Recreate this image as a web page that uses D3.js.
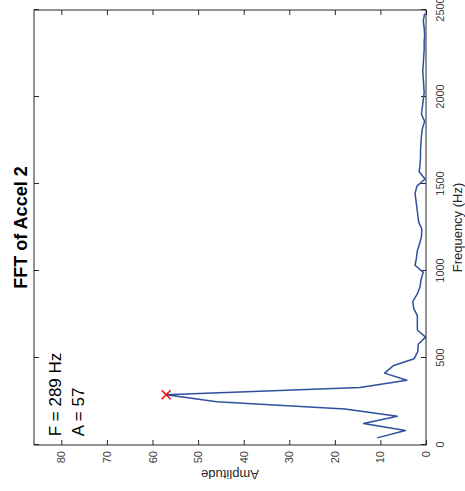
<!DOCTYPE html>
<html><head><meta charset="utf-8">
<script src="https://cdn.jsdelivr.net/npm/d3@7"></script>
<style>body{margin:0;background:#fff}svg{display:block}</style>
</head><body><svg id="c" width="465" height="491"></svg>
<script>
const freqs = [41,83,124,165,207,248,289,331,372,413,455,496,537,579,620,661,702,744,785,826,868,909,950,992,1033,1074,1116,1157,1198,1240,1281,1322,1364,1405,1446,1488,1529,1570,1612,1653,1694,1736,1777,1818,1860,1901,1942,1983,2025,2066,2107,2149,2190,2231,2273,2314,2355,2397,2438,2479];
const amps = [10.7,4.5,13.7,6.3,17.8,45.9,57,14.5,4.2,9.1,7.2,2.6,1.8,1.7,0.1,1.9,1.9,1.9,2.7,2.9,1.9,1.3,1.1,0.6,2.4,2.1,1.9,1.4,1.0,0.9,1.6,1.8,2.0,2.2,2.4,2.0,0.2,1.5,1.3,1.2,1.2,1.1,1.0,0.8,0.3,1.0,0.8,0.6,0.4,0.5,0.6,0.7,0.6,0.5,0.4,0.4,0.3,0.4,0.6,0.3];
const freqTicks = [0,500,1000,1500,2000,2500];
const ampTicks = [0,10,20,30,40,50,60,70,80];
const peakF = 289, peakA = 57;
const titleText = "FFT of Accel 2";
const xLabel = "Frequency (Hz)";
const yLabel = "Amplitude";
const annLines = ["F = 289 Hz", "A = 57"];

const W = 435, H = 392;
const font = "'Liberation Sans', Arial, Helvetica, sans-serif";
const axisCol = "#262626";
const svg = d3.select("#c");
const g = svg.append("g").attr("transform", "translate(34,445) rotate(-90)");

const x = d3.scaleLinear().domain([0, 2500]).range([0, W]);
const y = d3.scaleLinear().domain([0, 86]).range([H, 0]);

function styleAxis(sel, showText) {
  sel.select(".domain").remove();
  sel.selectAll(".tick line").attr("stroke", axisCol).attr("stroke-width", 1);
  sel.selectAll(".tick text").attr("fill", "#404040").style("font-family", font).style("font-size", "11px");
  if (!showText) sel.selectAll(".tick text").remove();
}

g.append("g").attr("transform", `translate(0,${H})`)
  .call(d3.axisBottom(x).tickValues(freqTicks).tickSizeInner(-5).tickSizeOuter(0).tickPadding(10).tickFormat(d3.format("d")))
  .call(s => styleAxis(s, true));
g.append("g")
  .call(d3.axisTop(x).tickValues(freqTicks).tickSizeInner(-5).tickSizeOuter(0))
  .call(s => styleAxis(s, false));
g.append("g")
  .call(d3.axisLeft(y).tickValues(ampTicks).tickSizeInner(-5).tickSizeOuter(0).tickPadding(6).tickFormat(d3.format("d")))
  .call(s => styleAxis(s, true));
g.append("g").attr("transform", `translate(${W},0)`)
  .call(d3.axisRight(y).tickValues(ampTicks).tickSizeInner(-5).tickSizeOuter(0))
  .call(s => styleAxis(s, false));

g.append("rect").attr("x", 0).attr("y", 0).attr("width", W).attr("height", H)
  .attr("fill", "none").attr("stroke", axisCol).attr("stroke-width", 1);

const line = d3.line().x((d, i) => x(freqs[i])).y((d, i) => y(amps[i]));
g.append("path").datum(amps).attr("d", line)
  .attr("fill", "none").attr("stroke", "#2f4f9f").attr("stroke-width", 1.5).attr("stroke-linejoin", "round");

const px = x(peakF), py = y(peakA), m = 4.5;
g.append("path").attr("d", `M${px-m},${py-m}L${px+m},${py+m}M${px-m},${py+m}L${px+m},${py-m}`)
  .attr("stroke", "#ff0000").attr("stroke-width", 1.5).attr("fill", "none");

g.append("text").attr("x", x(50)).attr("y", y(80))
  .style("font-family", font).style("font-size", "17px").attr("fill", "#000")
  .selectAll("tspan").data(annLines).join("tspan")
  .attr("x", x(50)).attr("dy", (d, i) => i === 0 ? 0 : 23).text(d => d);

g.append("text").attr("x", W / 2).attr("y", -7).attr("text-anchor", "middle")
  .style("font-family", font).style("font-size", "18px").style("font-weight", "bold").attr("fill", "#000")
  .text(titleText);

g.append("text").attr("x", W / 2).attr("y", H + 36).attr("text-anchor", "middle")
  .style("font-family", font).style("font-size", "13px").attr("fill", "#262626")
  .text(xLabel);

g.append("text").attr("transform", `translate(-25,${H / 2}) rotate(-90)`).attr("text-anchor", "middle")
  .style("font-family", font).style("font-size", "13px").attr("fill", "#262626")
  .text(yLabel);
</script></body></html>
